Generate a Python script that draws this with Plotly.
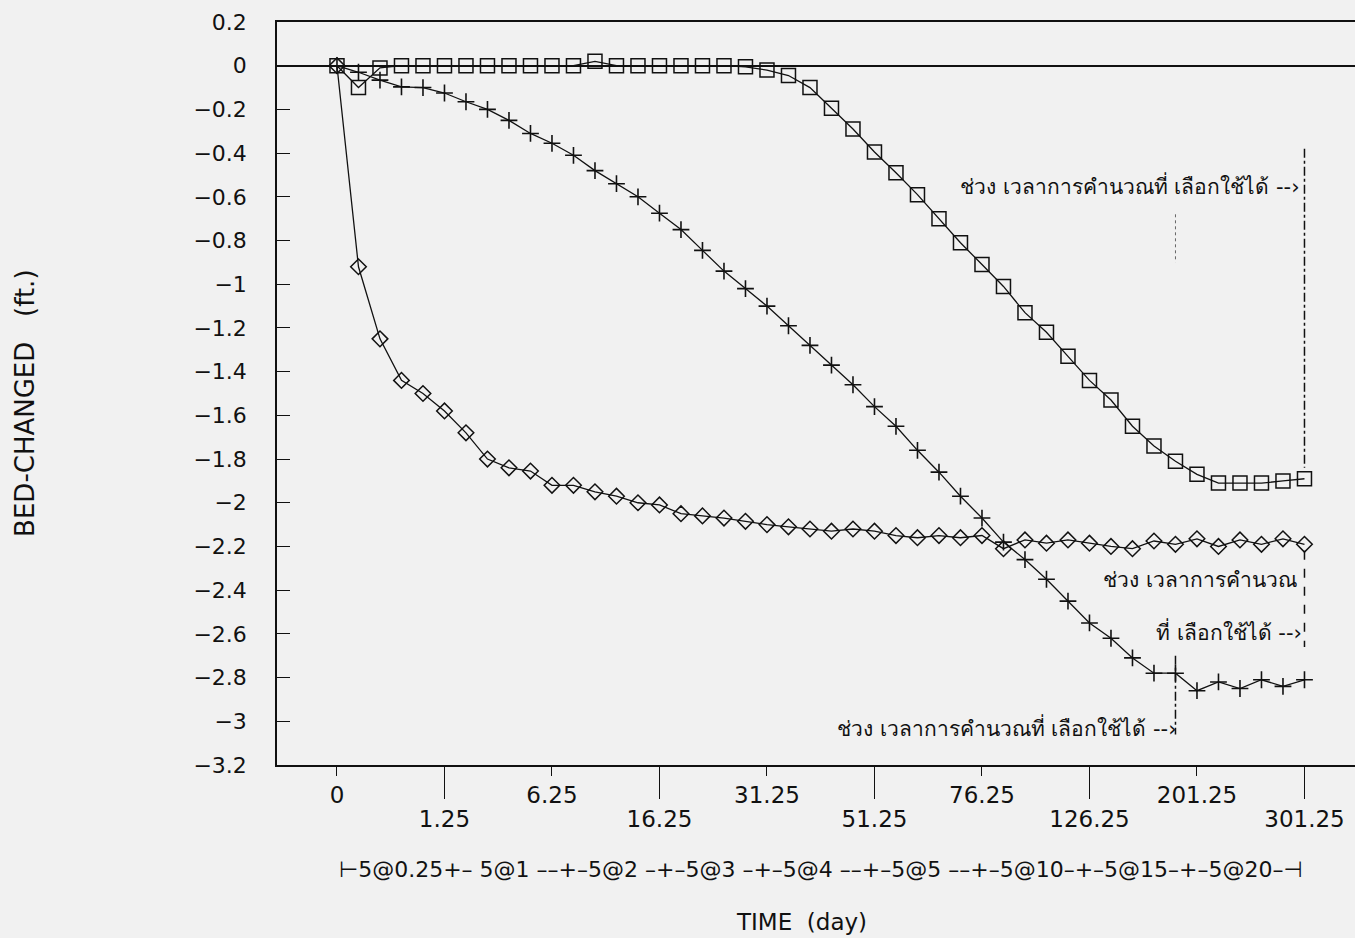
import plotly.graph_objects as go

# ---- data ----
step_index = list(range(46))
tick_pos_upper = [0, 10, 20, 30, 40]
tick_lab_upper = ["0", "6.25", "31.25", "76.25", "201.25"]
tick_pos_lower = [5, 15, 25, 35, 45]
tick_lab_lower = ["1.25", "16.25", "51.25", "126.25", "301.25"]
y_ticks = [0.2, 0, -0.2, -0.4, -0.6, -0.8, -1, -1.2, -1.4, -1.6, -1.8, -2,
           -2.2, -2.4, -2.6, -2.8, -3, -3.2]
y_tick_text = ["0.2", "0", "−0.2", "−0.4", "−0.6", "−0.8", "−1", "−1.2", "−1.4",
               "−1.6", "−1.8", "−2", "−2.2", "−2.4", "−2.6", "−2.8", "−3", "−3.2"]

series_square = [0, -0.10, -0.01, 0.0, 0.0, 0.0, 0.0, 0.0, 0.0, 0.0, 0.0, 0.0,
                 0.02, 0.0, 0.0, 0.0, 0.0, 0.0, 0.0, -0.005, -0.02, -0.045,
                 -0.10, -0.195, -0.29, -0.395, -0.49, -0.59, -0.70, -0.81, -0.91,
                 -1.01, -1.13, -1.22, -1.33, -1.44, -1.53, -1.65, -1.74, -1.81,
                 -1.87, -1.91, -1.91, -1.91, -1.90, -1.89]
series_plus = [0, -0.03, -0.066, -0.097, -0.10, -0.125, -0.165, -0.20, -0.25,
               -0.31, -0.355, -0.41, -0.48, -0.54, -0.60, -0.675, -0.75, -0.845,
               -0.94, -1.02, -1.10, -1.19, -1.28, -1.37, -1.46, -1.56, -1.65,
               -1.76, -1.86, -1.97, -2.07, -2.18, -2.26, -2.35, -2.45, -2.55,
               -2.62, -2.71, -2.78, -2.78, -2.86, -2.82, -2.85, -2.81, -2.84, -2.81]
series_diamond = [0, -0.92, -1.25, -1.44, -1.50, -1.58, -1.68, -1.80, -1.84,
                  -1.855, -1.92, -1.92, -1.95, -1.97, -2.00, -2.01, -2.05, -2.06,
                  -2.07, -2.085, -2.10, -2.11, -2.12, -2.13, -2.12, -2.13, -2.15,
                  -2.16, -2.15, -2.16, -2.15, -2.21, -2.17, -2.185, -2.17, -2.185,
                  -2.20, -2.21, -2.175, -2.19, -2.165, -2.20, -2.17, -2.19, -2.165,
                  -2.19]

step_text = "⊢5@0.25+– 5@1 ––+–5@2 –+–5@3 –+–5@4 ––+–5@5 ––+–5@10–+–5@15–+–5@20–⊣"
note_full = "ช่วง เวลาการคำนวณที่ เลือกใช้ได้ --›"
note_a = "ช่วง เวลาการคำนวณ"
note_b = "ที่ เลือกใช้ได้ --›"

# vertical marker lines: (x index, y from, y to, dash)
guide_lines = [(45, -0.38, -1.84, "dashdot"), (45, -2.22, -2.66, "dash"),
               (39, -2.70, -3.06, "dashdot"), (39, -0.68, -0.90, "dot")]

ink = "#111111"
bg = "#f1f1f1"
fnt = "DejaVu Sans"

fig = go.Figure()
fig.add_trace(go.Scatter(x=step_index, y=series_square, mode="lines+markers",
                         line=dict(color=ink, width=1.3),
                         marker=dict(symbol="square-open", size=14, color=ink,
                                     line=dict(width=1.5, color=ink)),
                         showlegend=False))
fig.add_trace(go.Scatter(x=step_index, y=series_diamond, mode="lines+markers",
                         line=dict(color=ink, width=1.3),
                         marker=dict(symbol="diamond-open", size=12, color=ink,
                                     line=dict(width=1.5, color=ink)),
                         showlegend=False))
fig.add_trace(go.Scatter(x=step_index, y=series_plus, mode="lines+markers",
                         xaxis="x2",
                         line=dict(color=ink, width=1.3),
                         marker=dict(symbol="cross-thin", size=12, color=ink,
                                     line=dict(width=1.6, color=ink)),
                         showlegend=False))

for gx, y0, y1, dash in guide_lines:
    fig.add_shape(type="line", xref="x", yref="y", x0=gx, x1=gx, y0=y0, y1=y1,
                  line=dict(color=ink if dash != "dot" else "#666666",
                            width=1.5 if dash != "dot" else 1, dash=dash))

xr = [-2.79, 47.35]
fig.update_layout(
    width=1355, height=938,
    margin=dict(l=277, r=0, t=22, b=173),
    paper_bgcolor=bg, plot_bgcolor=bg,
    font=dict(family=fnt, color=ink),
    xaxis=dict(range=xr, showgrid=False, zeroline=False, showline=True,
               linecolor=ink, linewidth=1.5, mirror=True,
               tickmode="array", tickvals=tick_pos_upper, ticktext=tick_lab_upper,
               ticks="outside", ticklen=9, tickwidth=1.4, tickcolor=ink,
               tickfont=dict(family=fnt, size=23, color=ink)),
    xaxis2=dict(range=xr, overlaying="x", anchor="y", side="bottom",
                showgrid=False, zeroline=False, showline=False,
                tickmode="array", tickvals=tick_pos_lower, ticktext=tick_lab_lower,
                ticks="outside", ticklen=33, tickwidth=1.4, tickcolor=ink,
                tickfont=dict(family=fnt, size=23, color=ink)),
    yaxis=dict(range=[-3.2, 0.2], showgrid=False, zeroline=True,
               zerolinecolor=ink, zerolinewidth=1.5, showline=True,
               linecolor=ink, linewidth=1.5, mirror=False,
               tickmode="array", tickvals=y_ticks, ticktext=y_tick_text,
               ticks="inside", ticklen=13, tickwidth=1.3, tickcolor=ink,
               ticklabelstandoff=24,
               tickfont=dict(family=fnt, size=22, color=ink)),
)

fig.add_annotation(x=22.5, xref="x", y=-0.141, yref="paper", text=step_text,
                   xanchor="center", yanchor="middle",
                   showarrow=False, font=dict(family=fnt, size=22, color=ink))
fig.add_annotation(x=21.6, xref="x", y=-0.211, yref="paper", text="TIME  (day)",
                   xanchor="center", yanchor="middle",
                   showarrow=False, font=dict(family=fnt, size=23, color=ink))
fig.add_annotation(x=-0.234, xref="paper", y=0.487, yref="paper",
                   text="BED-CHANGED   (ft.)", textangle=-90, showarrow=False,
                   xanchor="center", yanchor="middle",
                   font=dict(family=fnt, size=26, color=ink))

fig.add_annotation(x=45, xref="x", y=-0.55, yref="y", text=note_full,
                   xanchor="right", xshift=-2, showarrow=False,
                   font=dict(size=21, color=ink))
fig.add_annotation(x=45, xref="x", y=-2.355, yref="y", text=note_a,
                   xanchor="right", xshift=-5, showarrow=False,
                   font=dict(size=21, color=ink))
fig.add_annotation(x=45, xref="x", y=-2.59, yref="y", text=note_b,
                   xanchor="right", xshift=0, showarrow=False,
                   font=dict(size=21, color=ink))
fig.add_annotation(x=39, xref="x", y=-3.03, yref="y", text=note_full,
                   xanchor="right", xshift=4, showarrow=False,
                   font=dict(size=21, color=ink))

fig.write_html("out.html")
